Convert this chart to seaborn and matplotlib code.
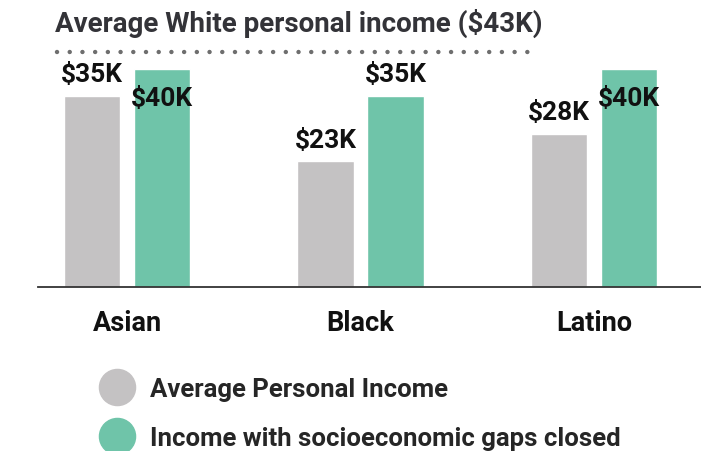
import pandas as pd
import seaborn as sns
import matplotlib.pyplot as plt
from matplotlib.lines import Line2D

# Daten
groups = ["Asian", "Black", "Latino"]
avg_income = [35, 23, 28]
closed_income = [40, 35, 40]
white_income = 43
series_names = ["Average Personal Income", "Income with socioeconomic gaps closed"]
colors = ["#c4c2c3", "#6fc4a9"]

df = pd.DataFrame({
    "group": groups * 2,
    "income": avg_income + closed_income,
    "series": [series_names[0]] * 3 + [series_names[1]] * 3,
})

sns.set_style("white")
plt.rcParams["font.family"] = ["Roboto", "DejaVu Sans"]
plt.rcParams["font.weight"] = "bold"

fig = plt.figure(figsize=(7.01, 4.52), dpi=100)
ax = fig.add_axes([38 / 701, 164 / 452, 663 / 701, 288 / 452])

sns.barplot(data=df, x="group", y="income", hue="series", palette=colors,
            width=0.6, gap=0.19, legend=False, ax=ax, saturation=1)

ax.set_xlim(-0.381, 2.458)
ax.set_ylim(0, 52.75)

# Beschriftungen der Balken
for bars in ax.containers:
    for bar in bars:
        h = bar.get_height()
        xc = bar.get_x() + bar.get_width() / 2
        y = h + 4.0 if h + 4.0 < white_income else h - 5.3
        ax.text(xc, y, f"${h:.0f}K", ha="center", va="center",
                fontsize=19, fontweight="bold", color="#111111")

# Linie fuer weisses Durchschnittseinkommen
ax.axhline(white_income, xmin=(57 - 38) / 663, xmax=(537 - 38) / 663,
           color="#6e6e6e", linewidth=3.2, linestyle=(0, (0.01, 2.85)),
           dash_capstyle="round")
fig.text(55 / 701, 1 - 23 / 452, f"Average White personal income (${white_income}K)",
         ha="left", va="center", fontsize=20, fontweight="bold", color="#333338")

# Achsen
for s in ["top", "right", "left"]:
    ax.spines[s].set_visible(False)
ax.spines["bottom"].set_color("#333333")
ax.spines["bottom"].set_linewidth(1.3)
ax.set_yticks([])
ax.set_xlabel("")
ax.set_ylabel("")
ax.tick_params(axis="x", length=0, pad=16, labelsize=19.5, labelcolor="#111111")
for lbl in ax.get_xticklabels():
    lbl.set_fontweight("bold")

# Legende
handles = [Line2D([], [], marker="o", linestyle="", markersize=26,
                  markerfacecolor=c, markeredgecolor=c) for c in colors]
fig.legend(handles, series_names, loc="upper left",
           bbox_to_anchor=(68 / 701, 1 - 355 / 452), frameon=False,
           handletextpad=0.3, labelspacing=0.95,
           prop={"weight": "bold", "size": 18.5})

fig.savefig("out.png", dpi=100)
